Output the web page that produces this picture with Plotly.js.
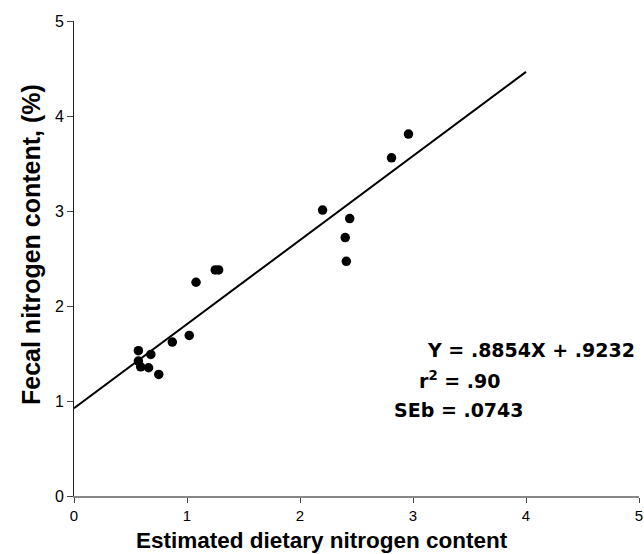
<!DOCTYPE html>
<html>
<head>
<meta charset="utf-8">
<script src="https://cdn.plot.ly/plotly-3.0.1.min.js"></script>
<style>html,body{margin:0;padding:0;background:#fff;}#chart{width:644px;height:554px;}</style>
</head>
<body>
<div id="chart"></div>
<script>
// Observed points: estimated dietary N (x) vs fecal N (y)
const dietaryN = [0.57, 0.68, 0.57, 0.59, 0.66, 0.75, 0.87, 1.02, 1.08, 1.25, 1.28, 2.20, 2.44, 2.40, 2.41, 2.81, 2.96];
const fecalN   = [1.53, 1.49, 1.42, 1.36, 1.35, 1.28, 1.62, 1.69, 2.25, 2.38, 2.38, 3.01, 2.92, 2.72, 2.47, 3.56, 3.81];
// Regression line endpoints (Y = .8854X + .9232)
const lineX = [0, 4];
const lineY = [0.9232, 4.4648];
const tickVals = [0, 1, 2, 3, 4, 5];
const eqLines = ['Y = .8854X + .9232', 'r<sup>2</sup> = .90', 'SEb = .0743'];
const xTitle = 'Estimated dietary nitrogen content';
const yTitle = 'Fecal nitrogen content, (%)';

const traces = [
  {x: lineX, y: lineY, mode: 'lines', type: 'scatter', line: {color: '#000', width: 2}, hoverinfo: 'skip'},
  {x: dietaryN, y: fecalN, mode: 'markers', type: 'scatter', marker: {color: '#000', size: 9.5}}
];

const L = 74, R = 5, T = 21, B = 58, W = 644, H = 554;
const pw = W - L - R, ph = H - T - B;
const px = v => (v - L) / pw;
const py = v => (H - B - v) / ph;

const eqFont = {size: 19, family: 'DejaVu Sans, sans-serif', color: '#000'};
const annotations = [
  {x: px(637), y: py(350), xanchor: 'right', text: '<b>' + eqLines[0] + '</b>', font: eqFont},
  {x: px(417), y: py(380), xanchor: 'left', text: '<b>' + eqLines[1] + '</b>', font: eqFont},
  {x: px(392), y: py(410), xanchor: 'left', text: '<b>' + eqLines[2] + '</b>', font: eqFont},
  {x: px(322), y: py(540), xanchor: 'center', text: '<b>' + xTitle + '</b>',
   font: {size: 22.5, family: 'Liberation Sans, Arial, sans-serif', color: '#000'}},
  {x: px(31), y: py(245), xanchor: 'center', textangle: -90, text: '<b>' + yTitle + '</b>',
   font: {size: 25, family: 'Liberation Sans, Arial, sans-serif', color: '#000'}}
].map(a => Object.assign({xref: 'paper', yref: 'paper', yanchor: 'middle', showarrow: false}, a));

const layout = {
  width: W, height: H,
  margin: {l: L, r: R, t: T, b: B},
  showlegend: false,
  paper_bgcolor: '#fff', plot_bgcolor: '#fff',
  font: {family: 'Liberation Sans, Arial, sans-serif', color: '#000'},
  xaxis: {
    range: [0, 5], tickvals: tickVals, ticks: 'outside', ticklen: 5, tickwidth: 1, tickcolor: '#444',
    showline: true, linecolor: '#888', linewidth: 2, showgrid: false, zeroline: false,
    tickfont: {size: 15}, automargin: false
  },
  yaxis: {
    range: [0, 5], tickvals: tickVals, ticks: 'outside', ticklen: 6, tickwidth: 1, tickcolor: '#444',
    showline: true, linecolor: '#222', linewidth: 1, showgrid: false, zeroline: false,
    tickfont: {size: 16}, automargin: false
  },
  annotations: annotations
};

Plotly.newPlot('chart', traces, layout, {displayModeBar: false, staticPlot: true});
</script>
</body>
</html>
